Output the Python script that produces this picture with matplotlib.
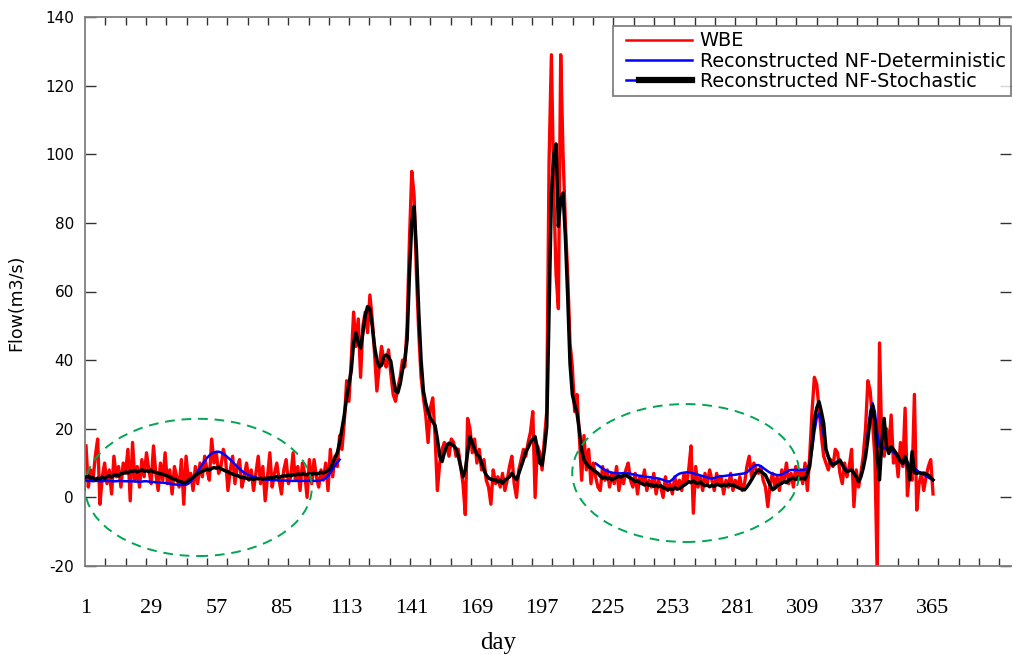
import numpy as np
import matplotlib
matplotlib.use("Agg")
import matplotlib.pyplot as plt
from matplotlib.patches import Ellipse
from matplotlib.lines import Line2D
from matplotlib.legend_handler import HandlerBase

# ---------------- data ----------------
days = list(range(1, 366))

wbe = [
    15, 3, 8, 5, 12, 17, -2, 6, 10, 4,
    8, 1, 12, 6, 9, 3, 10, 7, 14, -1,
    16, 5, 9, 3, 11, 6, 13, 8, 4, 15,
    7, 2, 10, 5, 13, 4, 8, 1, 9, 6,
    3, 11, -2, 12, 5, 7, 2, 9, 4, 10,
    6, 12, 8, 5, 17, 10, 13, 7, 9, 14,
    11, 2, 8, 12, 4, 9, 11, 3, 6, 10,
    5, 8, 2, 7, 12, 4, 9, -1, 6, 13,
    3, 7, 10, 5, 1, 8, 11, 4, 6, 13,
    5, 9, 2, 10, 7, 0, 11, 4, 11, 6,
    3, 8, 5, 10, 2, 14, 6, 12, 9, 18,
    14, 22, 34, 28, 40, 54, 44, 52, 35, 50,
    54, 48, 59, 52, 42, 31, 38, 44, 40, 38,
    43, 36, 30, 28, 32, 35, 40, 38, 50, 75,
    95, 88, 65, 48, 35, 29, 24, 16, 26, 29,
    18, 2, 10, 14, 16, 15, 12, 17, 16, 12,
    14, 9, 4, -5, 23, 20, 13, 17, 10, 14,
    8, 11, 5, 3, -2, 8, 4, 6, 3, 7,
    2, 5, 9, 12, 4, 0, 8, 11, 14, 12,
    16, 19, 25, 0, 15, 13, 8, 17, 25, 98,
    129, 90, 65, 55, 129, 100, 80, 65, 45, 38,
    25, 30, 18, 5, 18, 8, 14, 4, 10, 6,
    3, 2, 9, 5, 8, 3, 7, 4, 9, 2,
    6, 4, 8, 10, 5, 3, 7, 1, 6, 4,
    8, 2, 5, 3, 7, 1, 5, 3, 0, 6,
    2, 4, 1, 6, 3, 5, 2, 7, 4, 8,
    15, -4.6, 9, 3, 6, 2, 7, 4, 8, 5,
    2, 7, 4, 6, 1, 5, 3, 7, 2, 5,
    3, 6, 2, 4, 9, 12, 6, 10, 8, 7,
    9, 5, 3, -2.7, 4, 7, 3, 6, 2, 8,
    5, 10, 4, 7, 3, 9, 5, 8, 4, 10,
    2, 12, 25, 35, 33, 26, 18, 12, 10, 8,
    11, 9, 14, 13, 7, 4, 10, 6, 9, 14,
    -2.7, 8, 3, 7, 12, 20, 34, 31, 22, 12,
    -22, 45, 15, 12, 20, 14, 24, 10, 13, 6,
    16, 9, 26, 0.5, 8, 5, 30, -3.7, 4, 7,
    2, 6, 9, 11, 1,
]

nf_stochastic = [
    5.9, 6.2, 5.5, 5.8, 5.2, 5.6, 5.4, 5.9, 5.5, 6.0,
    6.3, 5.9, 6.4, 6.6, 6.2, 6.9, 7.0, 7.4, 7.1, 7.6,
    7.5, 7.8, 7.4, 7.7, 8.0, 7.6, 7.8, 7.5, 7.9, 7.4,
    7.3, 7.0, 6.9, 6.7, 6.5, 6.2, 5.9, 5.5, 5.3, 5.0,
    4.7, 4.5, 4.2, 4.4, 4.9, 5.4, 5.8, 6.4, 6.9, 7.3,
    7.6, 7.9, 8.2, 8.0, 8.4, 8.7, 8.5, 8.8, 8.3, 8.0,
    7.7, 7.5, 7.0, 6.8, 6.5, 6.4, 6.0, 5.8, 5.7, 5.6,
    5.3, 5.5, 5.2, 5.5, 5.4, 5.6, 5.3, 5.6, 5.5, 5.8,
    5.6, 5.9, 6.0, 5.8, 6.1, 6.3, 6.2, 6.5, 6.3, 6.6,
    6.5, 6.8, 6.6, 6.9, 6.7, 6.6, 6.9, 6.7, 7.0, 6.8,
    7.0, 7.3, 7.1, 7.4, 7.8, 8.5, 10.0, 11.5, 13.0, 16.0,
    20, 24, 29, 33, 37, 45, 48, 45, 43.5, 48,
    53, 55.6, 55, 50, 44, 40, 38, 38.5, 41, 41.5,
    41, 39.6, 35, 31, 30.5, 33, 37, 40, 46, 65,
    80, 84.8, 72, 54, 40, 31, 27.4, 25, 23, 22,
    21, 17, 12, 10.4, 13, 15, 15.8, 15.5, 15, 14.3,
    12, 9, 6, 8, 13, 17.7, 16, 14, 12.5, 11.9,
    10, 8, 6.5, 5.6, 5.3, 5, 5.1, 4.5, 5, 4.1,
    5, 5.5, 6, 7, 6, 5.1, 7, 9, 11, 13.3,
    14.5, 16, 17, 17.7, 14, 10, 9.4, 14, 20.6, 55,
    88, 100, 103, 79, 86.7, 88.7, 76, 58.5, 39, 30,
    27, 24.5, 19.6, 13.8, 11, 9.9, 9, 8.5, 8, 7.5,
    7, 6.2, 5.6, 5.9, 5.4, 5.7, 5.1, 5.5, 5.8, 6.2,
    5.9, 6.4, 6.5, 6.0, 5.6, 5.2, 4.6, 4.9, 4.3, 4.0,
    3.6, 4.1, 3.5, 3.8, 3.2, 3.6, 3.1, 3.4, 2.8, 2.6,
    2.2, 2.6, 2.3, 2.8, 2.4, 2.6, 3.1, 3.5, 4.0, 4.6,
    4.3, 4.8, 4.2, 4.1, 4.5, 3.8, 3.4, 3.6, 3.1, 3.5,
    3.2, 3.8, 3.6, 3.3, 3.7, 3.4, 3.9, 3.5, 3.6, 3.2,
    3.0, 2.6, 2.4, 2.2, 3.0, 4.0, 5.1, 6.3, 7.4, 8.0,
    7.6, 7.0, 6.5, 5.0, 3.5, 2.2, 2.6, 3.4, 3.8, 4.1,
    4.6, 4.3, 5.1, 5.4, 5.6, 5.2, 5.8, 5.4, 5.6, 5.3,
    7, 9, 15, 22.6, 26, 27.9, 25, 21.6, 14, 11.9,
    10, 9.4, 9.8, 10.3, 10.9, 9.5, 8.2, 7.5, 7.8, 8,
    7, 6, 4.6, 6, 8.5, 11.9, 17, 23, 26.9, 22,
    12, 5.1, 16, 23, 15, 12.8, 14.8, 14, 13, 11.9,
    10.5, 9.9, 11.9, 10, 5.1, 13.3, 7.2, 7, 7.2, 7,
    7.1, 6.8, 6.5, 5.8, 5.1,
]

# deterministic reconstruction: two visible pieces (days 1-110 and 220-365)
det_days_a = list(range(1, 111))
nf_det_a = [
    4.9, 4.8, 4.8, 4.7, 4.8, 4.8, 4.7, 4.7, 4.8, 4.8,
    4.8, 4.7, 4.7, 4.7, 4.8, 4.8, 4.7, 4.7, 4.7, 4.7,
    4.7, 4.6, 4.6, 4.6, 4.6, 4.7, 4.7, 4.6, 4.5, 4.5,
    4.4, 4.4, 4.3, 4.3, 4.2, 4.1, 4.0, 3.9, 3.8, 3.7,
    3.6, 3.6, 3.6, 3.7, 4.0, 4.6, 5.5, 6.5, 7.6, 8.7,
    9.6, 10.6, 11.5, 12.2, 12.8, 13.1, 13.3, 13.3, 13.1, 12.7,
    12.2, 11.6, 11.0, 10.3, 9.6, 8.9, 8.3, 7.7, 7.2, 6.8,
    6.5, 6.2, 6.0, 5.8, 5.6, 5.4, 5.3, 5.2, 5.1, 5.1,
    5.0, 5.0, 5.0, 4.9, 4.9, 4.9, 4.9, 4.8, 4.8, 4.8,
    4.8, 4.8, 4.8, 4.8, 4.8, 4.8, 4.8, 4.8, 4.8, 4.8,
    4.9, 5.0, 5.2, 5.6, 6.3, 7.2, 8.2, 9.2, 10.2, 11.0,
]
det_days_b = list(range(220, 366))
nf_det_b = [
    9.9, 9.4, 8.9, 8.4, 8.0, 7.7, 7.4, 7.2, 7.1, 7.0,
    7.0, 7.0, 7.1, 7.1, 7.0, 6.9, 6.7, 6.6, 6.4, 6.3,
    6.2, 6.1, 6.0, 5.9, 5.8, 5.7, 5.6, 5.5, 5.3, 5.1,
    4.8, 4.6, 4.7, 5.2, 5.9, 6.5, 6.9, 7.1, 7.2, 7.3,
    7.3, 7.2, 7.0, 6.8, 6.6, 6.4, 6.2, 6.0, 5.8, 5.6,
    5.5, 5.6, 5.9, 6.1, 6.2, 6.2, 6.3, 6.4, 6.5, 6.5,
    6.6, 6.7, 6.8, 6.9, 7.0, 7.3, 7.9, 8.6, 9.1, 9.4,
    9.4, 9.1, 8.6, 8.1, 7.6, 7.2, 6.9, 6.7, 6.5, 6.5,
    6.7, 7.0, 7.4, 7.8, 8.0, 8.0, 8.0, 8.0, 8.0, 8.0,
    8.1, 8.5, 10, 14, 19, 23, 24.5, 22, 18, 13.5,
    11.5, 10.3, 9.8, 10, 10.5, 10.8, 9.8, 8.6, 7.8, 7.8,
    8, 7.2, 6, 5, 6, 9, 13, 19, 25, 27.5,
    25, 19, 15, 14, 14.5, 14.2, 13.6, 13.5, 13.2, 12.5,
    11.5, 10.8, 10.3, 10.0, 9.6, 9.3, 9.1, 8.5, 7.9, 7.4,
    7.0, 6.6, 6.2, 5.8, 5.4, 5.0,
]

tick_days = [1, 29, 57, 85, 113, 141, 169, 197, 225, 253, 281, 309, 337, 365]
ytick_vals = [-20, 0, 20, 40, 60, 80, 100, 120, 140]

# ---------------- figure ----------------
W, H = 1013, 655
fig = plt.figure(figsize=(W / 100, H / 100), dpi=100)
ax_l, ax_r, ax_t, ax_b = 85, 1011, 17, 566
ax = fig.add_axes([ax_l / W, 1 - ax_b / H, (ax_r - ax_l) / W, (ax_b - ax_t) / H])

ax.plot(days, wbe, color="#ff0000", lw=2.4, zorder=2)
ax.plot(det_days_a, nf_det_a, color="#0000ff", lw=1.8, zorder=3)
ax.plot(det_days_b, nf_det_b, color="#0000ff", lw=1.8, zorder=3)
ax.plot(days, nf_stochastic, color="black", lw=2.5, zorder=4)

green = "#00a650"
for cx, cy, w, h in [(49.3, 2.9, 97.5, 40.0), (258.7, 7.1, 97.5, 40.2)]:
    ax.add_patch(Ellipse((cx, cy), w, h, fill=False, ec=green, lw=1.4,
                         ls=(0, (5, 3.5)), zorder=5))

x0 = 0.57
x1 = x0 + (ax_r - ax_l) / 2.327
ax.set_xlim(x0, x1)
ax.set_ylim(-20, 140)

# x labels at day positions, minor ticks on regular grid
ax.set_xticks(tick_days)
ax.set_xticklabels([str(d) for d in tick_days], family="Liberation Serif", fontsize=16)
step = 20.32 / 2.327
ax.set_xticks([x0 + k * step for k in range(1, 46)], minor=True)
ax.tick_params(axis="x", which="major", length=0, pad=24, bottom=True, top=False)
ax.tick_params(axis="x", which="minor", direction="in", length=6, width=1,
               top=True, bottom=True, color="#333333")

ax.set_yticks(ytick_vals)
ax.set_yticklabels([str(v) for v in ytick_vals], family="DejaVu Sans", fontsize=11)
ax.tick_params(axis="y", which="major", direction="in", length=8, width=1,
               left=True, right=True, pad=8, color="#333333")

for s in ["left", "top", "bottom"]:
    ax.spines[s].set_color("#808080")
    ax.spines[s].set_linewidth(1.3)
ax.spines["right"].set_visible(False)

ax.set_ylabel("Flow(m3/s)", family="DejaVu Sans", fontsize=12.5)
ax.yaxis.set_label_coords((25 - ax_l) / (ax_r - ax_l), (ax_b - 303) / (ax_b - ax_t))
ax.set_xlabel("day", family="Liberation Serif", fontsize=18)
ax.xaxis.set_label_coords((498 - ax_l) / (ax_r - ax_l), (ax_b - 649) / (ax_b - ax_t))
ax.xaxis.label.set_va("baseline")


class HandlerLines(HandlerBase):
    """Legend handle: line segments starting a little inside the handle box."""

    def __init__(self, segs):
        super().__init__()
        self.segs = segs

    def create_artists(self, legend, orig_handle, xdescent, ydescent, width,
                       height, fontsize, trans):
        y = height / 2 - ydescent
        arts = []
        for color, lw, start in self.segs:
            ln = Line2D([-xdescent + start * width, -xdescent + width], [y, y],
                        color=color, lw=lw)
            ln.set_transform(trans)
            arts.append(ln)
        return arts


off = 0.11
h1 = Line2D([], [], color="#ff0000", lw=1.8)
h2 = Line2D([], [], color="#0000ff", lw=1.8)
h3 = Line2D([], [], color="black", lw=4.5)
leg = ax.legend([h1, h2, h3],
                ["WBE", "Reconstructed NF-Deterministic", "Reconstructed NF-Stochastic"],
                handler_map={
                    h1: HandlerLines([("#ff0000", 1.8, off)]),
                    h2: HandlerLines([("#0000ff", 1.8, off)]),
                    h3: HandlerLines([("#0000ff", 1.8, off), ("black", 4.5, off + 0.18)]),
                },
                loc="upper right", bbox_to_anchor=(1.0, 1 - 9 / (ax_b - ax_t)),
                borderaxespad=0, prop={"family": "DejaVu Sans", "size": 13.9},
                frameon=True, fancybox=False, handlelength=3.83, handletextpad=0.4,
                labelspacing=0.06, borderpad=0.28)
leg.get_frame().set_edgecolor("#555555")
leg.get_frame().set_linewidth(1.2)
leg.set_zorder(10)

fig.savefig("out.png", dpi=100)
